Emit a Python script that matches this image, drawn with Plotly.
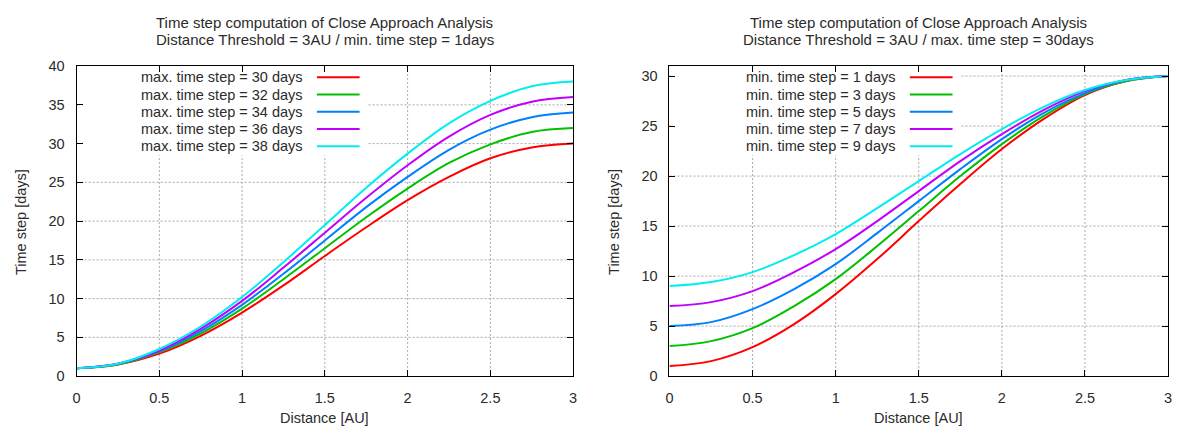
import plotly.graph_objects as go

# ---------------- data ----------------
distance = [0, 0.25, 0.5, 0.75, 1.0, 1.25, 1.5, 1.75, 2.0, 2.25, 2.5, 2.75, 3.0]

left_names = ["max. time step = 30 days", "max. time step = 32 days",
              "max. time step = 34 days", "max. time step = 36 days",
              "max. time step = 38 days"]
left_max30 = [1, 1.5, 2.9, 5.2, 8.2, 11.7, 15.5, 19.2, 22.7, 25.7, 28.1, 29.5, 30]
left_max32 = [1, 1.5, 3.1, 5.5, 8.7, 12.5, 16.5, 20.5, 24.2, 27.5, 29.9, 31.5, 32]
left_max34 = [1, 1.6, 3.2, 5.8, 9.2, 13.2, 17.5, 21.8, 25.7, 29.2, 31.8, 33.4, 34]
left_max36 = [1, 1.6, 3.3, 6.1, 9.7, 14.0, 18.5, 23.0, 27.2, 30.9, 33.7, 35.4, 36]
left_max38 = [1, 1.6, 3.5, 6.4, 10.2, 14.7, 19.5, 24.3, 28.7, 32.6, 35.5, 37.4, 38]

right_names = ["min. time step = 1 days", "min. time step = 3 days",
               "min. time step = 5 days", "min. time step = 7 days",
               "min. time step = 9 days"]
right_min1 = [1, 1.5, 2.9, 5.2, 8.2, 11.7, 15.5, 19.2, 22.7, 25.7, 28.1, 29.5, 30]
right_min3 = [3, 3.5, 4.8, 7.0, 9.7, 13.0, 16.5, 20.0, 23.2, 26.0, 28.2, 29.5, 30]
right_min5 = [5, 5.4, 6.7, 8.7, 11.2, 14.3, 17.5, 20.7, 23.7, 26.3, 28.3, 29.6, 30]
right_min7 = [7, 7.4, 8.5, 10.4, 12.7, 15.5, 18.5, 21.5, 24.2, 26.6, 28.5, 29.6, 30]
right_min9 = [9, 9.4, 10.4, 12.1, 14.2, 16.8, 19.5, 22.2, 24.7, 26.9, 28.6, 29.6, 30]

left_title = ["Time step computation of Close Approach Analysis",
              "Distance Threshold = 3AU / min. time step = 1days"]
right_title = ["Time step computation of Close Approach Analysis",
               "Distance Threshold = 3AU / max. time step = 30days"]
x_label = "Distance [AU]"
y_label = "Time step [days]"
x_ticks = [0, 0.5, 1, 1.5, 2, 2.5, 3]
left_y_ticks = [0, 5, 10, 15, 20, 25, 30, 35, 40]
right_y_ticks = [0, 5, 10, 15, 20, 25, 30]

colors = ["#ff0000", "#00c000", "#0080ff", "#c000ff", "#00eeee"]

# ---------------- layout constants ----------------
# the page body keeps its default 8px margin, so the figure is placed at (8, 8)
OFF = 8
PAGE_W, PAGE_H = 1182, 439
W, H = PAGE_W - OFF, PAGE_H - OFF
FONT = "Liberation Sans, Arial, sans-serif"
TXT = "#2b2b2b"
FS = 14.5
FS_TITLE = 15

left_px = (73, 573)      # page pixels
right_px = (670, 1172)
top_px, bot_px = 60, 382


def fx(p):
    return (p - OFF) / W


def fy(p):
    return 1 - (p - OFF) / H


y_dom = [fy(bot_px), fy(top_px)]

fig = go.Figure()

left_series = [left_max30, left_max32, left_max34, left_max36, left_max38]
right_series = [right_min1, right_min3, right_min5, right_min7, right_min9]

for name, ys, c in zip(left_names, left_series, colors):
    fig.add_trace(go.Scatter(x=distance, y=ys, mode="lines", name=name,
                             line=dict(color=c, width=2, shape="spline", smoothing=1.0),
                             xaxis="x", yaxis="y", showlegend=False))
for name, ys, c in zip(right_names, right_series, colors):
    fig.add_trace(go.Scatter(x=distance, y=ys, mode="lines", name=name,
                             line=dict(color=c, width=2, shape="spline", smoothing=1.0),
                             xaxis="x2", yaxis="y2", showlegend=False))

axis_common = dict(
    showline=True, linecolor="black", linewidth=1, mirror="ticks",
    ticks="inside", ticklen=6, tickcolor="black", tickwidth=1,
    showgrid=False, zeroline=False,
    tickfont=dict(family=FONT, size=FS, color=TXT),
)

fig.update_layout(
    width=W, height=H,
    margin=dict(l=0, r=0, t=0, b=0),
    paper_bgcolor="white", plot_bgcolor="white",
    font=dict(family=FONT, size=FS, color=TXT),
    xaxis=dict(domain=[fx(left_px[0]), fx(left_px[1])], anchor="y", range=[0, 3],
               tickvals=x_ticks, ticktext=[f"{v:g}" for v in x_ticks],
               ticklabelstandoff=8, **axis_common),
    yaxis=dict(domain=y_dom, anchor="x", range=[0, 40],
               tickvals=left_y_ticks, ticklabelstandoff=8, **axis_common),
    xaxis2=dict(domain=[fx(right_px[0]), min(1.0, fx(right_px[1]))], anchor="y2",
                range=[0, 3], tickvals=x_ticks, ticktext=[f"{v:g}" for v in x_ticks],
                ticklabelstandoff=8, **axis_common),
    yaxis2=dict(domain=y_dom, anchor="x2", range=[0, 31],
                tickvals=right_y_ticks, ticklabelstandoff=8, **axis_common),
)

annotations = []
shapes = []
GRID = dict(color="#a8a8a8", width=1, dash="2px,2px")


def add_panel(xa, ya, px_range, titles, names, yticks, yrange):
    cx = fx((px_range[0] + px_range[1]) / 2)
    for i, t in enumerate(titles):
        annotations.append(dict(text=t, x=cx, y=fy(15 + 17.5 * i),
                                xref="paper", yref="paper",
                                xanchor="center", yanchor="middle",
                                showarrow=False, font=dict(size=FS_TITLE, color=TXT)))
    annotations.append(dict(text=x_label, x=cx, y=fy(425),
                            xref="paper", yref="paper",
                            xanchor="center", yanchor="middle",
                            showarrow=False, font=dict(size=FS, color=TXT)))
    annotations.append(dict(text=y_label, x=fx(px_range[0] - 56), y=fy(222),
                            xref="paper", yref="paper", textangle=-90,
                            xanchor="center", yanchor="middle",
                            showarrow=False, font=dict(size=FS, color=TXT)))
    xdr = xa + " domain"
    ydr = ya + " domain"
    # dotted grid (below-layer shapes so the key box can hide it)
    for v in x_ticks[1:-1]:
        shapes.append(dict(type="line", xref=xa, yref=ydr, x0=v, x1=v, y0=0, y1=1,
                           line=GRID, layer="below"))
    for v in yticks:
        if 0 < v < yrange:
            shapes.append(dict(type="line", xref=xdr, yref=ya, x0=0, x1=1, y0=v, y1=v,
                               line=GRID, layer="below"))
    width = px_range[1] - px_range[0]
    plot_h = bot_px - top_px
    # white key box hiding the grid
    shapes.append(dict(type="rect", xref=xdr, yref=ydr,
                       x0=2 / width, x1=293 / width,
                       y0=(bot_px - 153) / plot_h, y1=(bot_px - 61) / plot_h,
                       fillcolor="white", line=dict(width=0), layer="below"))
    for i, (n, c) in enumerate(zip(names, colors)):
        yy = (bot_px - (71.7 + 17.9 * i)) / plot_h
        annotations.append(dict(text=n, x=230 / width, y=yy, xref=xdr, yref=ydr,
                                xanchor="right", yanchor="middle", showarrow=False,
                                font=dict(size=FS, color=TXT)))
        shapes.append(dict(type="line", xref=xdr, yref=ydr,
                           x0=242 / width, x1=285 / width, y0=yy, y1=yy,
                           line=dict(color=c, width=2), layer="above"))


add_panel("x", "y", left_px, left_title, left_names, left_y_ticks, 40)
add_panel("x2", "y2", right_px, right_title, right_names, right_y_ticks, 31)

fig.update_layout(annotations=annotations, shapes=shapes)

fig.write_html("out.html", config={"displayModeBar": False})
